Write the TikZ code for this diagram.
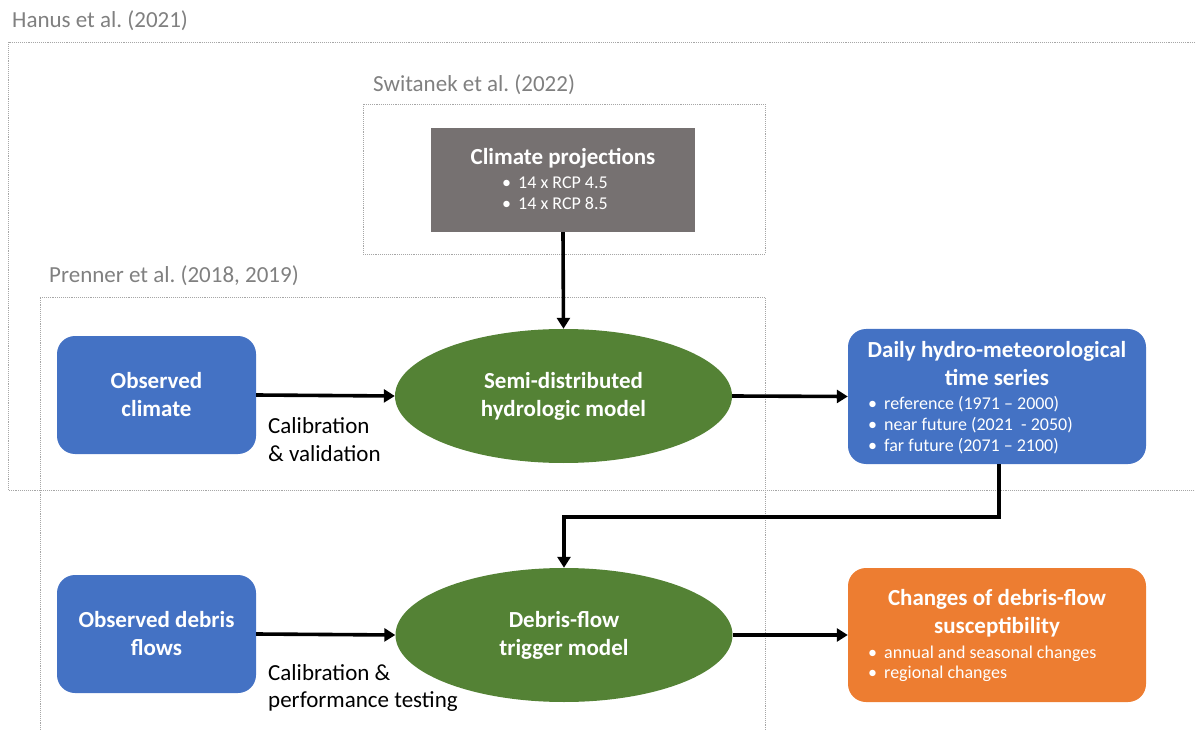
\documentclass[tikz,border=0pt]{standalone}
\usepackage{fontspec}
\setmainfont{Carlito}
\frenchspacing
\usetikzlibrary{arrows.meta,shapes.geometric}
\definecolor{blueb}{HTML}{4472C4}
\definecolor{greenb}{HTML}{548235}
\definecolor{orangeb}{HTML}{ED7D31}
\definecolor{grayb}{HTML}{767171}
\definecolor{framec}{HTML}{A6A6A6}
\definecolor{labelc}{HTML}{808080}
\newcommand{\bul}{\makebox[16pt][l]{\textbullet}}
\begin{document}
\frenchspacing
\begin{tikzpicture}[x=1pt,y=-1pt,
  frame/.style={draw=framec,line width=0.9pt,densely dotted},
  reflabel/.style={text=labelc,font=\fontsize{23}{26}\selectfont,inner sep=0,anchor=base west},
  boxbase/.style={text=white,font=\fontsize{23}{28}\selectfont\bfseries,align=center,inner sep=0},
  bluebox/.style={boxbase,rounded corners=18pt,fill=blueb},
  orangebox/.style={boxbase,rounded corners=18pt,fill=orangeb},
  graybox/.style={boxbase,fill=grayb},
  model/.style={boxbase,ellipse,fill=greenb,minimum width=337pt,minimum height=134pt},
  title/.style={text=white,font=\fontsize{23}{28}\selectfont\bfseries,inner sep=0,anchor=base,align=center},
  bullets/.style={text=white,font=\fontsize{18}{21.5}\selectfont,inner sep=0,anchor=base west},
  note/.style={text=black,font=\fontsize{23}{28}\selectfont,inner sep=0,anchor=base west},
  flow/.style={line width=3.6pt,-{Triangle[length=11pt,width=13pt]}},
]
\useasboundingbox (0,0) rectangle (1195,730);

% reference frames
\draw[frame] (1195,42) -- (8,42) -- (8,490) -- (1195,490);
\draw[frame] (363,104) rectangle (765,254);
\draw[frame] (40,730) -- (40,297) -- (765,297) -- (765,730);
\node[reflabel] (lhanus) at (12,28) {Hanus et al. (2021)};
\node[reflabel] (lswit) at (373,92) {Switanek et al. (2022)};
\node[reflabel] (lpren) at (49,283) {Prenner et al. (2018, 2019)};

% boxes
\node[graybox,minimum width=264pt,minimum height=104pt] (clim) at (563,180) {};
\node[title] (climt) at (563,165) {Climate projections};
\node[bullets] (climb) at (502,189) {\begin{tabular}[t]{@{}l@{}}\bul 14 x RCP 4.5\\[-0.5pt]\bul 14 x RCP 8.5\end{tabular}};

\node[bluebox,minimum width=199pt,minimum height=118pt] (obsc) at (156.5,395) {Observed\\climate};
\node[bluebox,minimum width=199pt,minimum height=118pt] (obsd) at (156.5,634) {Observed debris\\flows};

\node[model] (hydro) at (563.5,396) {Semi-distributed\\hydrologic model};
\node[model] (trig) at (564,635) {Debris-flow\\trigger model};

\node[bluebox,minimum width=298pt,minimum height=135pt] (daily) at (997,396.5) {};
\node[title] (dailyt) at (997,385) {Daily hydro-meteorological\\time series};
\node[bullets] (dailyb) at (868,409) {\begin{tabular}[t]{@{}l@{}}\bul reference (1971 -- 2000)\\\bul near future (2021 \ - 2050)\\\bul far future (2071 -- 2100)\end{tabular}};

\node[orangebox,minimum width=298pt,minimum height=134pt] (chg) at (997,635) {};
\node[title] (chgt) at (997,633) {Changes of debris-flow\\susceptibility};
\node[bullets] (chgb) at (868,658) {\begin{tabular}[t]{@{}l@{}}\bul annual and seasonal changes\\[-1.5pt]\bul regional changes\end{tabular}};

% notes
\node[note] (n1) at (268,433) {\begin{tabular}[t]{@{}l@{}}Calibration\\\& validation\end{tabular}};
\node[note] (n2) at (268,680) {\begin{tabular}[t]{@{}l@{}}Calibration \&\\[-1pt]performance testing\end{tabular}};

% connectors
\draw[flow] (clim.south) -- (hydro.north);
\draw[flow] (obsc.east) -- (hydro.west);
\draw[flow] (hydro.east) -- (daily.west);
\coordinate (bend) at (999,517);
\draw[flow] (daily.south -| bend) -- (bend) -| (trig.north);
\draw[flow] (obsd.east) -- (trig.west);
\draw[flow] (trig.east) -- (chg.west);
\end{tikzpicture}
\end{document}
